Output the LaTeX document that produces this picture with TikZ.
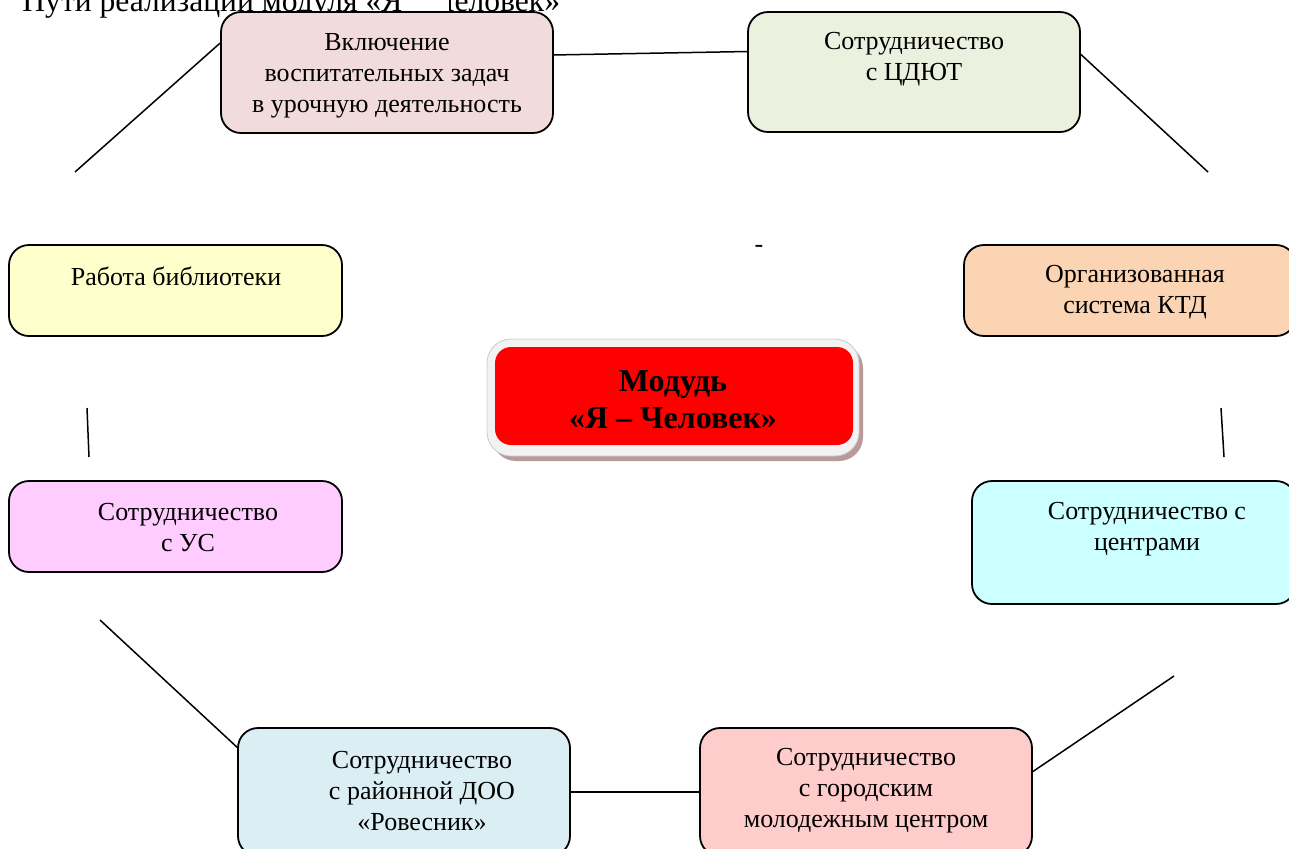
\documentclass[tikz,border=0pt]{standalone}
\usepackage{fontspec}
\setmainfont{Liberation Serif}
\definecolor{cA}{HTML}{F2DCDB}
\definecolor{cB}{HTML}{EBF1DE}
\definecolor{cC}{HTML}{FFFFCC}
\definecolor{cD}{HTML}{FBD4B4}
\definecolor{cE}{HTML}{FFCCFF}
\definecolor{cF}{HTML}{CCFFFF}
\definecolor{cG}{HTML}{DAEEF3}
\definecolor{cH}{HTML}{FFCCCC}
\definecolor{cRed}{HTML}{FF0000}
\definecolor{cFrame}{HTML}{F2F2F2}
\definecolor{cShadow}{HTML}{B89A9A}
\tikzset{
  boxshape/.style={draw=black, line width=0.9pt, rounded corners=10pt, inner sep=0pt},
  boxtext/.style={font=\fontsize{13}{15.5}\selectfont, align=center, inner sep=0pt},
  conn/.style={line width=0.75pt, black}
}
\newcommand{\mybox}[6]{% name, x1, y1, x2, y2, colour
  \node[boxshape, fill=#6, minimum width={(#4-#2)*0.5pt}, minimum height={(#5-#3)*0.5pt}] (#1) at ({(#2+#4)/2},{(#3+#5)/2}) {};}
\begin{document}
\begin{tikzpicture}[x=0.5pt,y=-0.5pt]
\useasboundingbox (0,0) rectangle (1289,848);
% title
\node[anchor=base west, inner sep=0pt, font=\fontsize{15.8}{18}\selectfont] (title) at (22,11) {Пути реализации модуля «Я – Человек»};
\fill[white] (407,-5) rectangle (449,11);
% boxes
\mybox{b1}{221}{12}{553}{133}{cA}
\mybox{b2}{748}{12}{1080}{132}{cB}
\mybox{b3}{9}{245}{342}{336}{cC}
\mybox{b4}{964}{245}{1296}{336}{cD}
\mybox{b5}{9}{481}{342}{572}{cE}
\mybox{b6}{972}{481}{1296}{604}{cF}
\mybox{b7}{238}{728}{570}{856}{cG}
\mybox{b8}{700}{728}{1032}{856}{cH}
% texts
\node[boxtext] (t1) at (387,76) {Включение\\воспитательных задач\\в урочную деятельность};
\node[boxtext] (t2) at (914,59) {Сотрудничество\\с ЦДЮТ};
\node[boxtext] (t3) at (176,276) {Работа библиотеки};
\node[boxtext] (t4) at (1135,292) {Организованная\\система КТД};
\node[boxtext] (t5) at (188,528) {Сотрудничество\\с УС};
\node[boxtext] (t6) at (1147,529) {Сотрудничество с\\центрами};
\node[boxtext] (t7) at (422,791) {Сотрудничество\\с районной ДОО\\«Ровесник»};
\node[boxtext] (t8) at (866,791) {Сотрудничество\\с городским\\молодежным центром};
% centre
\fill[cShadow, rounded corners=12pt] (492,344) rectangle (863,461);
\draw[fill=cFrame, draw=gray!40, line width=0.4pt, rounded corners=12pt] (487,339) rectangle (859,456);
\node[fill=cRed, rounded corners=8pt, minimum width=179pt, minimum height=49pt, inner sep=0pt] (c) at (674,396) {};
\node[font=\bfseries\fontsize{16}{18.5}\selectfont, align=center, inner sep=0pt] (ct) at (673,400) {Модудь\\«Я – Человек»};
% stray dash
\node[inner sep=0pt, font=\fontsize{13}{15}\selectfont] (dash) at (759,249) {-};
% connectors
\coordinate (e1) at (75,172);
\coordinate (e2) at (1208,172);
\coordinate (e3a) at (87,408);
\coordinate (e3b) at (89,457);
\coordinate (e4a) at (1221,408);
\coordinate (e4b) at (1224,457);
\coordinate (e5) at (100,620);
\coordinate (e6) at (1174,676);
\draw[conn] (b1.170) -- (e1);
\draw[conn] (b1.6) -- (b2.173);
\draw[conn] (b2.6) -- (e2);
\draw[conn] (e3a) -- (e3b);
\draw[conn] (e4a) -- (e4b);
\draw[conn] (e5) -- (b7.165);
\draw[conn] (b7.east) -- (b8.west);
\draw[conn] (b8.7) -- (e6);
\end{tikzpicture}
\end{document}
